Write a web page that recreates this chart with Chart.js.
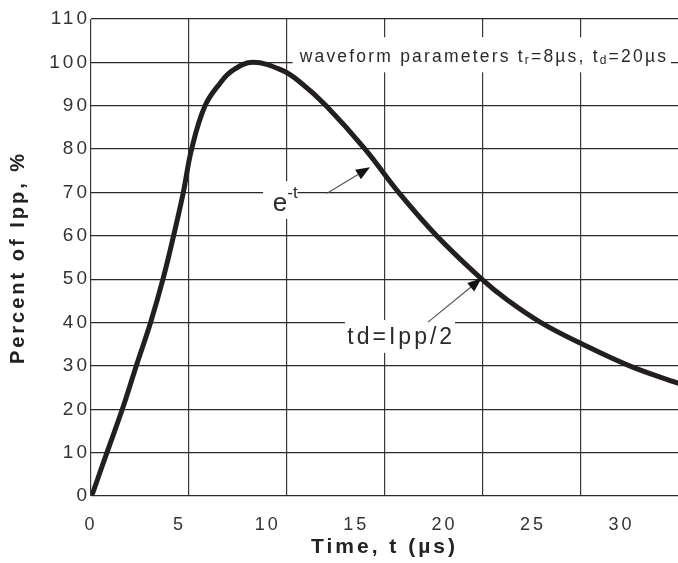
<!DOCTYPE html>
<html>
<head>
<meta charset="utf-8">
<script src="https://cdn.jsdelivr.net/npm/chart.js@4.4.1/dist/chart.umd.min.js"></script>
<style>
  html, body { margin: 0; padding: 0; background: #fff; }
  #wrap { width: 678px; height: 563px; }
</style>
</head>
<body>
<div id="wrap"><canvas id="surgeChart" width="678" height="563"></canvas></div>
<script>
// pulse waveform: time in µs, current in % of Ipp
const timeUs = [0.1, 0.9, 1.77, 2.56, 3.37, 4.07, 4.67, 5.22, 5.69, 6.45, 7.3, 8.03, 9.16, 10.79, 11.9, 13.3, 15.5, 17.4, 19.55, 22.1, 23.55, 25.45, 27.7, 30.46, 33.2];
const percentIpp = [0.7, 10, 20, 30, 40, 50, 60, 70, 80, 90, 95.2, 98.2, 100, 98.2, 95.2, 90, 80, 70, 60, 50, 45.2, 40, 35.2, 30, 26];

// tick labels and the (differently spaced) vertical grid of the original
const xTickLabels = [0, 5, 10, 15, 20, 25, 30];
const xGridLines = [0, 5.54, 11.07, 16.61, 22.15, 27.68];
const yTicks = [0, 10, 20, 30, 40, 50, 60, 70, 80, 90, 100, 110];

const FONT = '"Liberation Sans", Arial, sans-serif';

function drawRuns(ctx, runs, x, y) {
    runs.forEach(r => {
        ctx.font = r.size + 'px ' + FONT;
        ctx.fillText(r.text, x, y + (r.dy || 0));
        x += ctx.measureText(r.text).width;
    });
}

// labels on the chart, placed in data units
const notes = [
    {
        box: [11.4, 105.8, 32.8, 97.7], at: [11.8, 101.2], spacing: '2.2px',
        runs: [
            { text: 'waveform parameters t', size: 17.5 },
            { text: 'r', size: 12, dy: 4 },
            { text: '=8µs, t', size: 17.5 },
            { text: 'd', size: 12, dy: 4 },
            { text: '=20µs', size: 17.5 }
        ]
    },
    {
        box: [9.73, 72.6, 11.67, 63.9], at: [10.28, 67.4], spacing: '0px',
        runs: [
            { text: 'e', size: 26 },
            { text: '-t', size: 17, dy: -10 }
        ]
    },
    {
        box: [14.36, 40.6, 20.59, 33.0], at: [14.5, 36.5], spacing: '3px',
        runs: [{ text: 'td=Ipp/2', size: 23 }]
    }
];
const arrows = [
    [13.35, 69.8, 15.78, 75.8],
    [19.06, 40.1, 22.09, 50.2]
];

const notesPlugin = {
    id: 'notes',
    beforeDraw(chart) {
        chart.ctx.letterSpacing = '3px';
    },
    afterDatasetsDraw(chart) {
        const { ctx, scales: { x, y } } = chart;
        ctx.save();
        notes.forEach(n => {
            const x0 = x.getPixelForValue(n.box[0]), y0 = y.getPixelForValue(n.box[1]);
            const x1 = x.getPixelForValue(n.box[2]), y1 = y.getPixelForValue(n.box[3]);
            ctx.fillStyle = '#fff';
            ctx.fillRect(x0, y0, x1 - x0, y1 - y0);
            ctx.fillStyle = '#2a2a2a';
            ctx.textBaseline = 'middle';
            ctx.textAlign = 'left';
            ctx.letterSpacing = n.spacing;
            drawRuns(ctx, n.runs, x.getPixelForValue(n.at[0]), y.getPixelForValue(n.at[1]));
        });
        arrows.forEach(a => {
            const sx = x.getPixelForValue(a[0]), sy = y.getPixelForValue(a[1]);
            const ex = x.getPixelForValue(a[2]), ey = y.getPixelForValue(a[3]);
            const ang = Math.atan2(ey - sy, ex - sx);
            const len = 14, half = 5.5;
            const bx = ex - len * Math.cos(ang), by = ey - len * Math.sin(ang);
            ctx.strokeStyle = '#555';
            ctx.lineWidth = 1.2;
            ctx.beginPath();
            ctx.moveTo(sx, sy);
            ctx.lineTo(bx, by);
            ctx.stroke();
            ctx.fillStyle = '#111';
            ctx.beginPath();
            ctx.moveTo(ex, ey);
            ctx.lineTo(bx + half * Math.sin(ang), by - half * Math.cos(ang));
            ctx.lineTo(bx - half * Math.sin(ang), by + half * Math.cos(ang));
            ctx.closePath();
            ctx.fill();
        });
        ctx.restore();
    }
};

function surgeChart() {

    let surgeChart = document.getElementById('surgeChart')

    new Chart(surgeChart, {
        type: 'line',
        data: {
            datasets: [{
                data: timeUs.map((t, i) => ({ x: t, y: percentIpp[i] })),
                xAxisID: 'x',
                yAxisID: 'y',
                borderColor: '#231f20',
                borderWidth: 5,
                borderCapStyle: 'round',
                borderJoinStyle: 'round',
                pointRadius: 0,
                fill: false,
                tension: 0.4
            }]
        },
        options: {
            responsive: false,
            animation: false,
            layout: { padding: { top: 19, left: 0, right: 0, bottom: 0 } },
            plugins: {
                legend: { display: false },
                tooltip: { enabled: false }
            },
            scales: {
                x: {
                    type: 'linear',
                    position: 'bottom',
                    min: 0,
                    max: 33.2,
                    afterBuildTicks: s => { s.ticks = xTickLabels.map(v => ({ value: v })); },
                    afterFit: s => { s.height = 67; },
                    grid: { display: false },
                    border: { display: false },
                    ticks: { padding: 10, color: '#333', font: { family: FONT, size: 18 } },
                    title: {
                        display: true,
                        text: 'Time, t (µs)',
                        color: '#222',
                        font: { family: FONT, size: 21, weight: 'bold' },
                        padding: { top: 0, bottom: 3 }
                    }
                },
                xGrid: {
                    type: 'linear',
                    position: 'bottom',
                    min: 0,
                    max: 33.2,
                    afterBuildTicks: s => { s.ticks = xGridLines.map(v => ({ value: v })); },
                    afterFit: s => { s.height = 0; },
                    ticks: { display: false },
                    border: { display: false },
                    grid: { color: '#3a3a3a', lineWidth: 1.2, drawTicks: false }
                },
                y: {
                    min: 0,
                    max: 110,
                    afterBuildTicks: s => { s.ticks = yTicks.map(v => ({ value: v })); },
                    afterFit: s => { s.width = 91; },
                    grid: { color: '#2a2a2a', lineWidth: 1.2, drawTicks: false },
                    border: { display: false },
                    ticks: { padding: 1, color: '#333', font: { family: FONT, size: 19 } },
                    title: {
                        display: true,
                        text: 'Percent of Ipp, %',
                        color: '#222',
                        font: { family: FONT, size: 20, weight: 'bold' },
                        padding: { top: 6, bottom: 0 }
                    }
                }
            }
        },
        plugins: [notesPlugin]
    });
}

surgeChart();
</script>
</body>
</html>
